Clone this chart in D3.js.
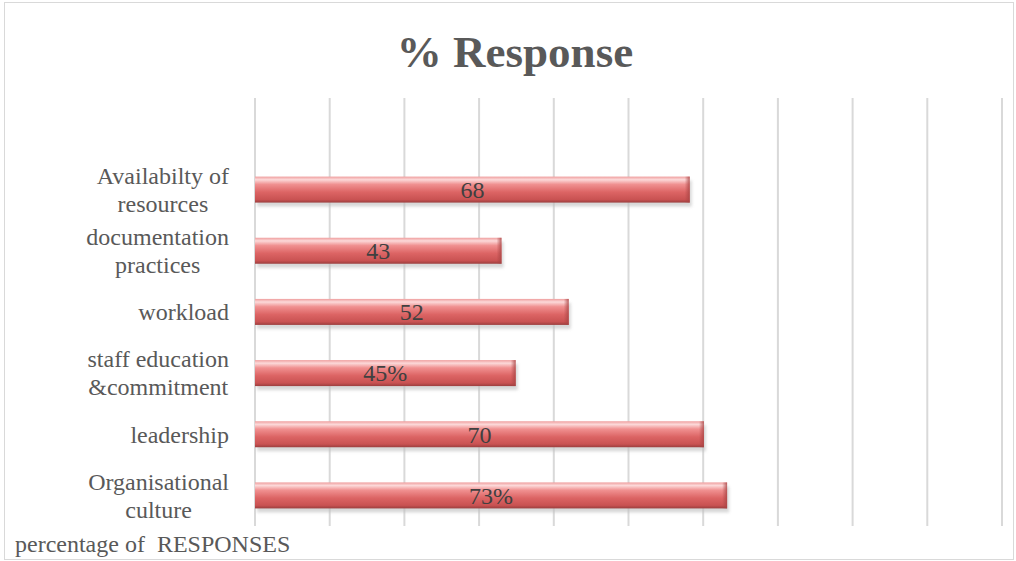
<!DOCTYPE html>
<html>
<head>
<meta charset="utf-8">
<script src="https://cdn.jsdelivr.net/npm/d3@7"></script>
<style>
  body { margin: 0; background: #fff; }
  svg { display: block; }
</style>
</head>
<body>
<svg id="chart" width="1016" height="561"></svg>
<script>
// data (top to bottom as shown)
const categories = ["Availabilty of resources", "documentation practices", "workload",
                    "staff education &commitment", "leadership", "Organisational culture"];
const labelLines = [["Availabilty of", "resources"], ["documentation", "practices"], ["workload"],
                    ["staff education", "&commitment"], ["leadership"], ["Organisational", "culture"]];
const values = [58.2, 33.0, 42.0, 34.9, 60.1, 63.2];
const dataLabels = ["68", "43", "52", "45%", "70", "73%"];
const gridTicks = [0, 10, 20, 30, 40, 50, 60, 70, 80, 90, 100];

const svg = d3.select("#chart");
const font = "'Liberation Serif', 'DejaVu Serif', serif";

// chart border
svg.append("rect")
   .attr("x", 4.5).attr("y", 2.5)
   .attr("width", 1009).attr("height", 557)
   .attr("fill", "#fff")
   .attr("stroke", "#d9d9d9");

let x = d3.scaleLinear().domain([0, 100]).range([255, 1002]);
let y = d3.scaleBand().domain(categories).range([159, 526])
          .paddingInner(0.575).paddingOuter(0.2875);

let defs = svg.append("defs");
let grad = defs.append("linearGradient").attr("id", "barGrad")
               .attr("x1", 0).attr("y1", 0).attr("x2", 0).attr("y2", 1);
[[0, "#ef9e9e"], [0.12, "#fcd9d9"], [0.3, "#f09090"], [0.6, "#dc6464"], [0.88, "#c95252"], [1, "#9c3e3e"]]
  .forEach((s) => grad.append("stop").attr("offset", s[0]).attr("stop-color", s[1]));

let endGrad = defs.append("linearGradient").attr("id", "endGrad")
                  .attr("x1", 0).attr("y1", 0).attr("x2", 1).attr("y2", 0);
endGrad.append("stop").attr("offset", 0).attr("stop-color", "#a84444").attr("stop-opacity", 0);
endGrad.append("stop").attr("offset", 1).attr("stop-color", "#a84444").attr("stop-opacity", 0.8);

let blur = defs.append("filter").attr("id", "shadow")
               .attr("x", "-10%").attr("y", "-50%").attr("width", "120%").attr("height", "200%");
blur.append("feGaussianBlur").attr("stdDeviation", 1.5);

// gridlines
svg.selectAll(".grid")
   .data(gridTicks)
   .enter()
   .append("line")
   .attr("x1", (d) => x(d)).attr("x2", (d) => x(d))
   .attr("y1", 98).attr("y2", 526)
   .attr("stroke", "#d9d9d9")
   .attr("stroke-width", 2);

// shadows
svg.selectAll(".shadow")
   .data(values)
   .enter()
   .append("rect")
   .attr("x", x(0) + 2)
   .attr("y", (d, i) => y(categories[i]) + 4)
   .attr("width", (d) => x(d) - x(0))
   .attr("height", y.bandwidth())
   .attr("fill", "#bdbdbd")
   .attr("opacity", 0.6)
   .attr("filter", "url(#shadow)");

// bars
svg.selectAll(".bar")
   .data(values)
   .enter()
   .append("rect")
   .attr("x", x(0))
   .attr("y", (d, i) => y(categories[i]))
   .attr("width", (d) => x(d) - x(0))
   .attr("height", y.bandwidth())
   .attr("fill", "url(#barGrad)");

svg.selectAll(".barEnd")
   .data(values)
   .enter()
   .append("rect")
   .attr("x", (d) => x(d) - 5)
   .attr("y", (d, i) => y(categories[i]))
   .attr("width", 5)
   .attr("height", y.bandwidth())
   .attr("fill", "url(#endGrad)");

// data labels
svg.selectAll(".dataLabel")
   .data(values)
   .enter()
   .append("text")
   .attr("x", (d) => (x(0) + x(d)) / 2)
   .attr("y", (d, i) => y(categories[i]) + y.bandwidth() / 2 + 8.3)
   .attr("text-anchor", "middle")
   .attr("font-family", font)
   .attr("font-size", 24)
   .attr("fill", "#404040")
   .text((d, i) => dataLabels[i]);

// category labels, lines centred inside a right-aligned block
labelLines.forEach((lines, i) => {
  let g = svg.append("g");
  let cy = y(categories[i]) + y.bandwidth() / 2;
  let lh = 28;
  let texts = lines.map((ln, j) => g.append("text")
      .attr("y", cy + (j - (lines.length - 1) / 2) * lh + 8.3)
      .attr("text-anchor", "middle")
      .attr("font-family", font)
      .attr("font-size", 24)
      .attr("fill", "#595959")
      .text(ln));
  let w = d3.max(texts, (t) => t.node().getComputedTextLength());
  texts.forEach((t) => t.attr("x", 229 - w / 2));
});

// title
svg.append("text")
   .attr("x", 515)
   .attr("y", 67)
   .attr("text-anchor", "middle")
   .attr("font-family", font)
   .attr("font-weight", "bold")
   .attr("font-size", 45)
   .attr("fill", "#595959")
   .text("% Response");

// axis title
svg.append("text")
   .attr("x", 15)
   .attr("y", 552)
   .attr("font-family", font)
   .attr("font-size", 24)
   .attr("fill", "#595959")
   .attr("xml:space", "preserve")
   .style("white-space", "pre")
   .text("percentage of  RESPONSES");
</script>
</body>
</html>
